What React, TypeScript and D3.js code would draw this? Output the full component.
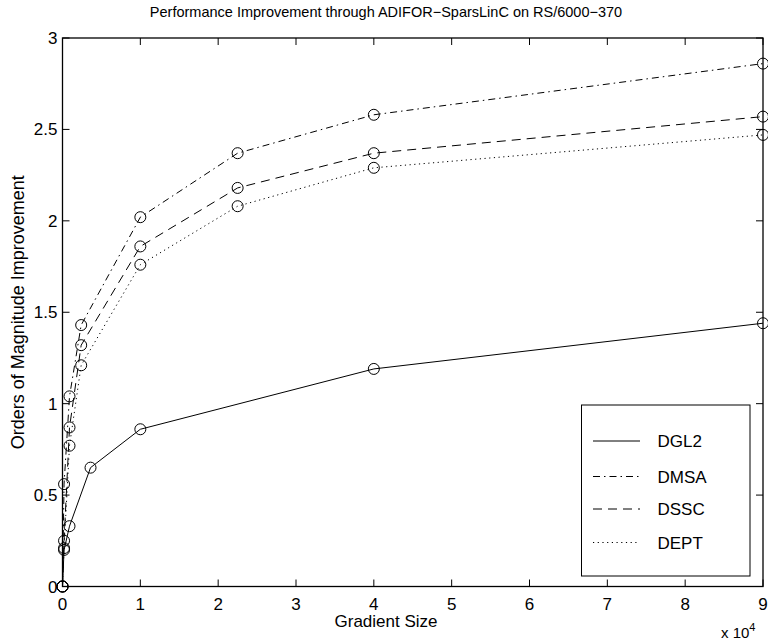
import React from "react";
import * as d3 from "d3";

const title = "Performance Improvement through ADIFOR\u2212SparsLinC on RS/6000\u2212370";
const xLabel = "Gradient Size";
const yLabel = "Orders of Magnitude Improvement";

const xTicks = [0, 1, 2, 3, 4, 5, 6, 7, 8, 9];
const yTicks = [0, 0.5, 1, 1.5, 2, 2.5, 3];
const yTickLabels = ["0", "0.5", "1", "1.5", "2", "2.5", "3"];

// x in units of 10^4
const dgl2X = [0, 0.02, 0.09, 0.36, 1, 4, 9];
const dgl2Y = [0, 0.2, 0.33, 0.65, 0.86, 1.19, 1.44];

const otherX = [0, 0.02, 0.09, 0.24, 1, 2.25, 4, 9];
const dmsaY = [0, 0.56, 1.04, 1.43, 2.02, 2.37, 2.58, 2.86];
const dsscY = [0, 0.25, 0.87, 1.32, 1.86, 2.18, 2.37, 2.57];
const deptY = [0, 0.21, 0.77, 1.21, 1.76, 2.08, 2.29, 2.47];

const seriesNames = ["DGL2", "DMSA", "DSSC", "DEPT"];
const dashes = ["", "7,4,1.5,4", "9,6", "1.2,3.5"];

const W = 768;
const H = 640;
const M = { left: 62.5, right: 763, top: 38, bottom: 586.5 };
const FONT = "'Liberation Sans', Arial, Helvetica, sans-serif";

export default function App() {
  const x = d3.scaleLinear().domain([0, 9]).range([M.left, M.right]);
  const y = d3.scaleLinear().domain([0, 3]).range([M.bottom, M.top]);
  const line = d3
    .line<[number, number]>()
    .x((d) => x(d[0]))
    .y((d) => y(d[1]));

  const series: [number, number][][] = [
    dgl2X.map((v, i) => [v, dgl2Y[i]] as [number, number]),
    otherX.map((v, i) => [v, dmsaY[i]] as [number, number]),
    otherX.map((v, i) => [v, dsscY[i]] as [number, number]),
    otherX.map((v, i) => [v, deptY[i]] as [number, number]),
  ];

  const tickLen = 7;
  const legend = { x0: 581.5, x1: 750, y0: 405, y1: 576 };
  const legendYs = [441, 476.5, 509, 542.5];
  const textCenter = 386;

  return (
    <svg
      width={W}
      height={H}
      style={{ position: "absolute", left: 0, top: 0, background: "#fff" }}
      fontFamily={FONT}
    >
      <rect x={0} y={0} width={W} height={H} fill="#fff" />
      <text x={textCenter} y={17} textAnchor="middle" fontSize={14.5}>
        {title}
      </text>

      <rect
        x={M.left}
        y={M.top}
        width={M.right - M.left}
        height={M.bottom - M.top}
        fill="none"
        stroke="#000"
        strokeWidth={1.3}
      />

      {xTicks.map((t) => (
        <g key={"xt" + t}>
          <line x1={x(t)} x2={x(t)} y1={M.bottom} y2={M.bottom - tickLen} stroke="#000" />
          <line x1={x(t)} x2={x(t)} y1={M.top} y2={M.top + tickLen} stroke="#000" />
          <text x={x(t)} y={609.5} textAnchor="middle" fontSize={17}>
            {t}
          </text>
        </g>
      ))}
      {yTicks.map((t, i) => (
        <g key={"yt" + t}>
          <line x1={M.left} x2={M.left + tickLen} y1={y(t)} y2={y(t)} stroke="#000" />
          <line x1={M.right} x2={M.right - tickLen} y1={y(t)} y2={y(t)} stroke="#000" />
          <text x={M.left - 5} y={y(t) + 6} textAnchor="end" fontSize={17}>
            {yTickLabels[i]}
          </text>
        </g>
      ))}

      <text x={textCenter} y={627} textAnchor="middle" fontSize={17}>
        {xLabel}
      </text>
      <text x={721} y={638} fontSize={15}>
        x 10
        <tspan dy={-7} fontSize={11}>
          4
        </tspan>
      </text>
      <text
        transform={`translate(24,${(M.top + M.bottom) / 2}) rotate(-90)`}
        textAnchor="middle"
        fontSize={18}
      >
        {yLabel}
      </text>

      {series.map((s, i) => (
        <g key={"s" + i}>
          <path
            d={line(s) || ""}
            fill="none"
            stroke="#000"
            strokeWidth={1}
            strokeDasharray={dashes[i] || undefined}
          />
          {s.map((p, j) => (
            <circle
              key={j}
              cx={x(p[0])}
              cy={y(p[1])}
              r={5.5}
              fill="none"
              stroke="#000"
              strokeWidth={1}
            />
          ))}
        </g>
      ))}

      <rect
        x={legend.x0}
        y={legend.y0}
        width={legend.x1 - legend.x0}
        height={legend.y1 - legend.y0}
        fill="#fff"
        stroke="#000"
        strokeWidth={1}
      />
      {seriesNames.map((n, i) => (
        <g key={"l" + n}>
          <line
            x1={593}
            x2={640}
            y1={legendYs[i]}
            y2={legendYs[i]}
            stroke="#000"
            strokeWidth={1}
            strokeDasharray={dashes[i] || undefined}
          />
          <text x={657.5} y={legendYs[i] + 6} fontSize={17}>
            {n}
          </text>
        </g>
      ))}
    </svg>
  );
}
